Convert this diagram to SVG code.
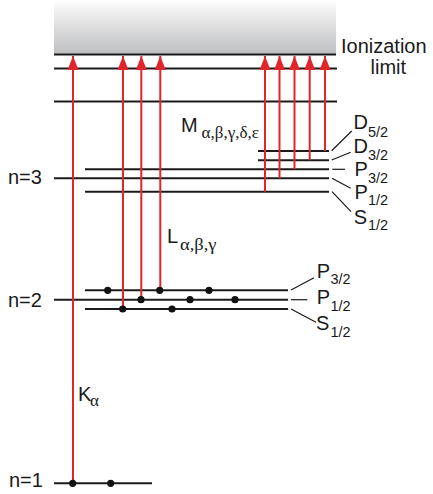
<svg xmlns="http://www.w3.org/2000/svg" width="433" height="494" viewBox="0 0 433 494">
<defs>
<linearGradient id="cont" x1="0" y1="0" x2="0" y2="1">
<stop offset="0" stop-color="#ffffff"/>
<stop offset="0.15" stop-color="#f4f4f4"/>
<stop offset="1" stop-color="#bdbec0"/>
</linearGradient>
<marker id="ah" viewBox="0 0 14 11" refX="14" refY="5.5" markerWidth="14" markerHeight="11" markerUnits="userSpaceOnUse" orient="auto">
<path d="M14 5.5 L0 0 L0 11 Z" fill="#e2242b"/>
</marker>
</defs>
<style>
.lv{stroke:#1a1a1a;stroke-width:2;fill:none}
.tk{stroke:#1a1a1a;stroke-width:1.2;fill:none}
.tr{stroke:#e2242b;stroke-width:2;fill:none;marker-end:url(#ah)}
.dot{fill:#111}
text{font-family:"Liberation Sans",Arial,sans-serif;fill:#1a1a1a}
.t{font-size:20px}
.s{font-size:14.5px}
.g{font-family:"Liberation Serif","DejaVu Serif",serif;font-size:17px}
</style>
<g id="continuum">
<rect x="54" y="0" width="282" height="54" fill="url(#cont)"/>
<line class="lv" x1="54" y1="54.5" x2="336" y2="54.5"/>
<text class="t" x="341" y="52.7">Ionization</text>
<text class="t" x="370.5" y="74.3">limit</text>
</g>
<g id="high-levels">
<line class="lv" x1="54" y1="68.5" x2="337" y2="68.5"/>
<line class="lv" x1="54" y1="101.5" x2="337" y2="101.5"/>
</g>
<g id="n3">
<text class="t" x="8" y="183.5">n=3</text>
<line class="lv" x1="258" y1="151" x2="329" y2="151"/>
<line class="lv" x1="258" y1="160.3" x2="329" y2="160.3"/>
<line class="lv" x1="85" y1="169.3" x2="329" y2="169.3"/>
<line class="lv" x1="54" y1="178.3" x2="329" y2="178.3"/>
<line class="lv" x1="85" y1="191.7" x2="329" y2="191.7"/>
<line class="tk" x1="331.7" y1="150.7" x2="351.7" y2="131"/>
<line class="tk" x1="331.7" y1="160" x2="350.7" y2="152.3"/>
<line class="tk" x1="332.3" y1="169.3" x2="345" y2="169.3"/>
<line class="tk" x1="332" y1="178.3" x2="350.7" y2="188.3"/>
<line class="tk" x1="332" y1="191.7" x2="351" y2="211.7"/>
<text class="t" x="353.5" y="129">D</text><text class="s" x="368" y="136.5">5/2</text>
<text class="t" x="353.5" y="153">D</text><text class="s" x="368" y="160">3/2</text>
<text class="t" x="354.5" y="176">P</text><text class="s" x="368" y="182.5">3/2</text>
<text class="t" x="354.5" y="199.3">P</text><text class="s" x="368" y="205">1/2</text>
<text class="t" x="353.7" y="223.8">S</text><text class="s" x="368" y="230">1/2</text>
</g>
<g id="n2">
<text class="t" x="8" y="306.7">n=2</text>
<line class="lv" x1="85" y1="290.3" x2="288" y2="290.3"/>
<line class="lv" x1="54" y1="299.7" x2="288" y2="299.7"/>
<line class="lv" x1="85" y1="309" x2="288" y2="309"/>
<line class="tk" x1="291" y1="290" x2="314" y2="277.7"/>
<line class="tk" x1="291" y1="299.7" x2="307.3" y2="299.7"/>
<line class="tk" x1="291" y1="309" x2="316" y2="322.3"/>
<text class="t" x="316.8" y="277.7">P</text><text class="s" x="330.5" y="284">3/2</text>
<text class="t" x="316.8" y="304.3">P</text><text class="s" x="330.5" y="310.7">1/2</text>
<text class="t" x="316" y="329.8">S</text><text class="s" x="330.5" y="336.5">1/2</text>
</g>
<g id="n1">
<text class="t" x="9" y="486.7">n=1</text>
<line class="lv" x1="54" y1="483.3" x2="152" y2="483.3"/>
</g>
<g id="connectors">
<line class="tr" x1="73" y1="483.3" x2="73" y2="56"/>
<line class="tr" x1="123" y1="309" x2="123" y2="56"/>
<line class="tr" x1="141.3" y1="299.7" x2="141.3" y2="56"/>
<line class="tr" x1="160.3" y1="290.3" x2="160.3" y2="56"/>
<line class="tr" x1="265" y1="191.7" x2="265" y2="56"/>
<line class="tr" x1="279.5" y1="178.3" x2="279.5" y2="56"/>
<line class="tr" x1="294.5" y1="169.3" x2="294.5" y2="56"/>
<line class="tr" x1="309.7" y1="160.3" x2="309.7" y2="56"/>
<line class="tr" x1="325" y1="151" x2="325" y2="56"/>
</g>
<g id="electrons">
<circle class="dot" cx="72.7" cy="483.3" r="3.6"/>
<circle class="dot" cx="110.7" cy="483.3" r="3.6"/>
<circle class="dot" cx="107.7" cy="290.3" r="3.6"/>
<circle class="dot" cx="159.7" cy="290.3" r="3.6"/>
<circle class="dot" cx="209" cy="290.3" r="3.6"/>
<circle class="dot" cx="141" cy="299.7" r="3.6"/>
<circle class="dot" cx="190" cy="299.7" r="3.6"/>
<circle class="dot" cx="235" cy="299.7" r="3.6"/>
<circle class="dot" cx="122.7" cy="309" r="3.6"/>
<circle class="dot" cx="172" cy="309" r="3.6"/>
</g>
<g id="labels">
<text class="t" x="181" y="132.3">M</text><text class="g" x="201.5" y="137.5" textLength="57.5" lengthAdjust="spacingAndGlyphs">α,β,γ,δ,ε</text>
<text class="t" x="167" y="243.3">L</text><text class="g" x="180" y="249.5" textLength="36.5" lengthAdjust="spacingAndGlyphs">α,β,γ</text>
<text class="t" x="78" y="401">K</text><text class="g" x="90" y="406">α</text>
</g>
</svg>
